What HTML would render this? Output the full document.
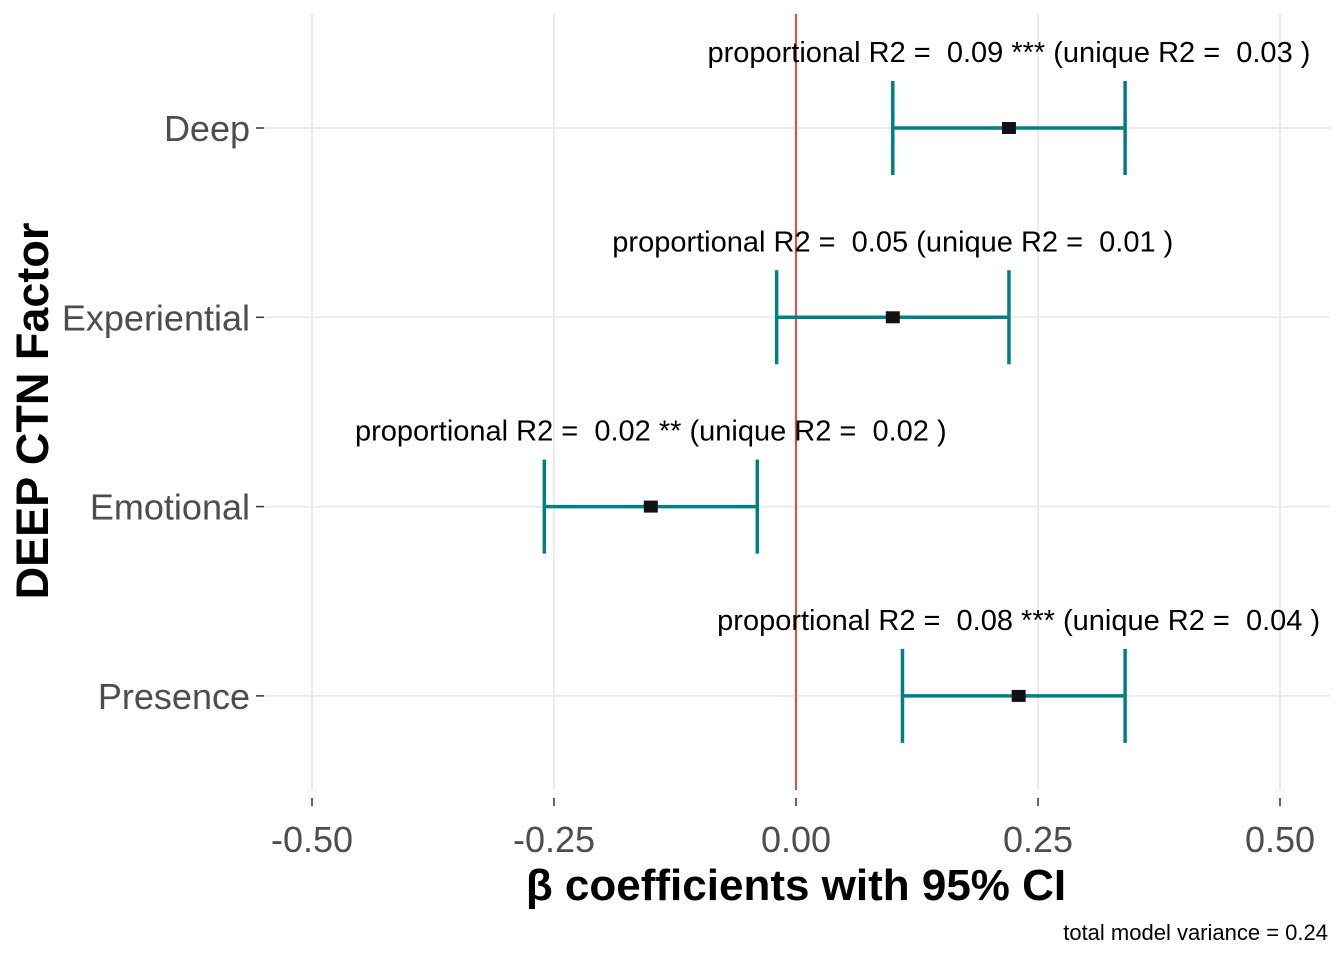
<!DOCTYPE html>
<html><head><meta charset="utf-8"><style>
html,body{margin:0;padding:0;background:#fff;}
svg{display:block;font-family:"Liberation Sans",Arial,sans-serif;}
text{white-space:pre;}
</style></head><body>
<svg id="chart" width="1344" height="960"></svg>
<script>
const categories = ["Deep","Experiential","Emotional","Presence"];
const estimates = [0.22, 0.10, -0.15, 0.23];
const lowerCI = [0.10, -0.02, -0.26, 0.11];
const upperCI = [0.34, 0.22, -0.04, 0.34];
const annotations = [
  "proportional R2 =  0.09 *** (unique R2 =  0.03 )",
  "proportional R2 =  0.05 (unique R2 =  0.01 )",
  "proportional R2 =  0.02 ** (unique R2 =  0.02 )",
  "proportional R2 =  0.08 *** (unique R2 =  0.04 )"
];
const xTicks = [-0.5, -0.25, 0, 0.25, 0.5];
const xTickLabels = ["-0.50","-0.25","0.00","0.25","0.50"];

const NS="http://www.w3.org/2000/svg";
const svg=document.getElementById('chart');
const x=v=>796+v*968;
const y=i=>128+i*189.3;
function el(tag,attrs,parent){const e=document.createElementNS(NS,tag);for(const k in attrs)e.setAttribute(k,attrs[k]);(parent||svg).appendChild(e);return e;}

xTicks.forEach((t,i)=>{
  const g=el('line',{x1:x(t),x2:x(t),y1:14,y2:790,stroke:'#ebebeb','stroke-width':2});
  
  
  const tk=el('line',{x1:x(t),x2:x(t),y1:798,y2:806,stroke:'#333','stroke-width':1.5});
  
  
  const tl=el('text',{x:x(t),y:852,'text-anchor':'middle','font-size':36,fill:'#4d4d4d'});
  tl.textContent=xTickLabels[i];
  
  
});
categories.forEach((c,i)=>{
  const g=el('line',{x1:265,x2:1330,y1:y(i),y2:y(i),stroke:'#ebebeb','stroke-width':2});
  
  
  const tk=el('line',{x1:256,x2:264,y1:y(i),y2:y(i),stroke:'#333','stroke-width':1.5});
  
  
  const tl=el('text',{x:250,y:y(i)+13,'text-anchor':'end','font-size':36,fill:'#4d4d4d'});
  tl.textContent=c;
  
  
});
const z=el('line',{x1:x(0),x2:x(0),y1:14,y2:790,stroke:'#e8140c','stroke-width':1.5});



categories.forEach((c,i)=>{
  const g=el('g',{});
  
  
  const yy=y(i);
  el('line',{x1:x(lowerCI[i]),x2:x(upperCI[i]),y1:yy,y2:yy,stroke:'#008080','stroke-width':3.5},g);
  el('line',{x1:x(lowerCI[i]),x2:x(lowerCI[i]),y1:yy-47,y2:yy+47,stroke:'#008080','stroke-width':3.5},g);
  el('line',{x1:x(upperCI[i]),x2:x(upperCI[i]),y1:yy-47,y2:yy+47,stroke:'#008080','stroke-width':3.5},g);
  const p=el('rect',{x:x(estimates[i])-7,y:yy-6,width:14,height:12,fill:'#111'});
  
  
  const a=el('text',{x:x(estimates[i]),y:yy-66,'text-anchor':'middle','font-size':29,fill:'#000'});
  a.textContent=annotations[i];
  
  
});
</script>
<svg style="position:absolute;left:0;top:0" width="1344" height="960">
<text x="796" y="900" text-anchor="middle" font-size="44" font-weight="bold" font-family="Liberation Sans, sans-serif">β coefficients with 95% CI</text>
<text transform="translate(48,411) rotate(-90)" text-anchor="middle" font-size="45" font-weight="bold" font-family="Liberation Sans, sans-serif">DEEP CTN Factor</text>
<text x="1328" y="940" text-anchor="end" font-size="22" font-family="Liberation Sans, sans-serif">total model variance = 0.24</text>
</svg>
</body></html>
